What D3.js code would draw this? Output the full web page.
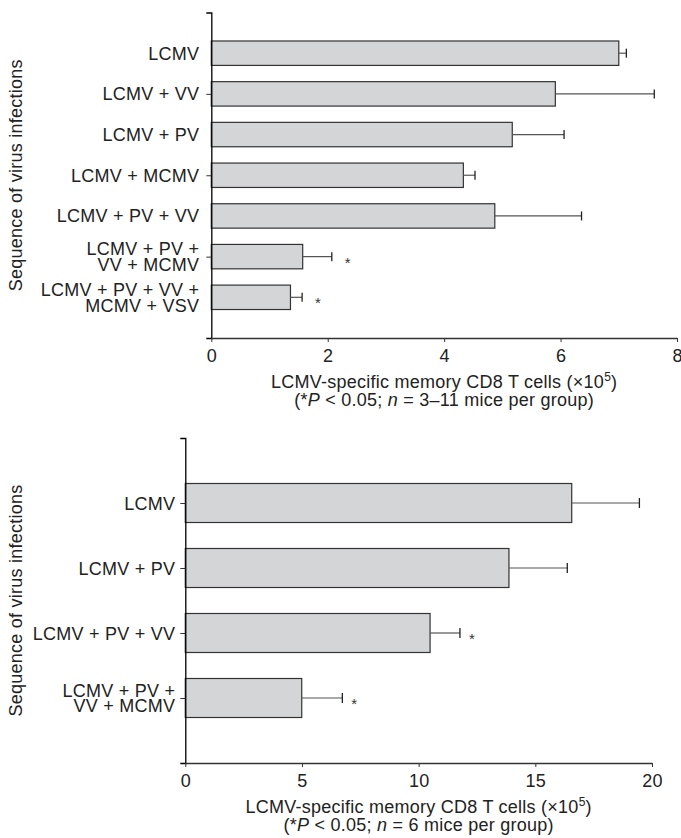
<!DOCTYPE html>
<html>
  <head>
    <meta charset="utf-8" />
    <script src="https://d3js.org/d3.v7.min.js"></script>
    <style>
      body { margin: 0; background: #fff; }
      svg { font-family: "Liberation Sans", Arial, Helvetica, sans-serif; }
      svg text { letter-spacing: 0.25px; }
    </style>
  </head>
  <body>
    <svg id="chart" width="681" height="838"></svg>

    <script>
      // ---- panel a: 3-11 mice per group ----
      const topCategories = [
        "LCMV",
        "LCMV + VV",
        "LCMV + PV",
        "LCMV + MCMV",
        "LCMV + PV + VV",
        "LCMV + PV +\nVV + MCMV",
        "LCMV + PV + VV +\nMCMV + VSV",
      ];
      const topMeans = [7.0, 5.91, 5.17, 4.33, 4.87, 1.57, 1.36];
      const topErrors = [0.13, 1.7, 0.89, 0.2, 1.49, 0.5, 0.2];
      const topStars = [false, false, false, false, false, true, true];
      const topTicks = [0, 2, 4, 6, 8];
      const topAxisTicks = ["LCMV + VV", "LCMV + MCMV", "LCMV + PV +\nVV + MCMV"];

      // ---- panel b: 6 mice per group ----
      const bottomCategories = [
        "LCMV",
        "LCMV + PV",
        "LCMV + PV + VV",
        "LCMV + PV +\nVV + MCMV",
      ];
      const bottomMeans = [16.56, 13.87, 10.49, 4.99];
      const bottomErrors = [2.9, 2.5, 1.28, 1.74];
      const bottomStars = [false, false, true, true];
      const bottomTicks = [0, 5, 10, 15, 20];

      const FS = 18; // font size used throughout

      const svg = d3.select("#chart");

      function drawPanel(opt) {
        var g = svg.append("g");

        var x = d3
          .scaleLinear()
          .domain([0, opt.ticks[opt.ticks.length - 1]])
          .range([opt.left, opt.right]);

        var y = d3
          .scalePoint()
          .domain(opt.categories)
          .range([opt.top, opt.bottom])
          .padding(1);

        var barH = y.step() * 0.6;
        var tipOf = (i) => x(opt.means[i] + opt.errors[i]);

        // bars
        g.selectAll("rect.bar")
          .data(opt.categories)
          .enter()
          .append("rect")
          .attr("class", "bar")
          .attr("x", x(0))
          .attr("y", (d) => y(d) - barH / 2)
          .attr("width", (d, i) => x(opt.means[i]) - x(0))
          .attr("height", barH)
          .attr("fill", "#d4d5d7")
          .attr("stroke", "#333")
          .attr("stroke-width", 1.2);

        // error bars
        g.selectAll("line.err")
          .data(opt.categories)
          .enter()
          .append("line")
          .attr("x1", (d, i) => x(opt.means[i]))
          .attr("x2", (d, i) => tipOf(i))
          .attr("y1", (d) => y(d))
          .attr("y2", (d) => y(d))
          .attr("stroke", "#555")
          .attr("stroke-width", 1.2);

        g.selectAll("line.cap")
          .data(opt.categories)
          .enter()
          .append("line")
          .attr("x1", (d, i) => tipOf(i))
          .attr("x2", (d, i) => tipOf(i))
          .attr("y1", (d) => y(d) - opt.cap)
          .attr("y2", (d) => y(d) + opt.cap)
          .attr("stroke", "#222")
          .attr("stroke-width", 1.3);

        // significance stars
        opt.categories.forEach(function (d, i) {
          if (!opt.stars[i]) return;
          g.append("text")
            .attr("x", tipOf(i) + opt.starGap)
            .attr("y", y(d) + 11)
            .attr("text-anchor", "middle")
            .attr("font-size", 15)
            .attr("fill", "#333")
            .text("*");
        });

        // y axis (ticks only at some categories)
        var yAxis = g
          .append("g")
          .attr("transform", "translate(" + x(0) + ",0)")
          .call(
            d3.axisLeft(y).tickValues(opt.axisTicks).tickFormat("").tickSize(5).tickSizeOuter(5)
          );
        yAxis.select(".domain").attr("stroke", "#000").attr("stroke-width", 1.3);
        yAxis.selectAll(".tick line").attr("stroke", "#333");

        // category labels
        g.selectAll("text.cat")
          .data(opt.categories)
          .enter()
          .append("text")
          .attr("class", "cat")
          .attr("text-anchor", "end")
          .attr("font-size", FS)
          .attr("fill", "#222")
          .each(function (d) {
            var lines = d.split("\n");
            var t = d3.select(this);
            lines.forEach(function (line, k) {
              t.append("tspan")
                .attr("x", x(0) - opt.labelGap)
                .attr("y", y(d) + 6.5 + (k - (lines.length - 1) / 2) * 15.5)
                .text(line);
            });
          });

        // x axis
        var xAxis = g
          .append("g")
          .attr("transform", "translate(0," + opt.bottom + ")")
          .call(d3.axisBottom(x).tickValues(opt.ticks).tickSize(4).tickSizeOuter(0));
        xAxis.select(".domain").attr("stroke", "#333").attr("stroke-width", 1.3);
        xAxis.selectAll(".tick line").attr("stroke", "#333");
        xAxis
          .selectAll(".tick text")
          .attr("font-size", FS)
          .attr("font-family", "Liberation Sans, Arial, sans-serif")
          .attr("fill", "#222")
          .attr("dy", null)
          .attr("y", 23.5);

        // x axis title
        var cx = (opt.left + opt.right) / 2;
        var t1 = g
          .append("text")
          .attr("x", cx)
          .attr("y", opt.bottom + 50)
          .attr("text-anchor", "middle")
          .attr("font-size", FS)
          .attr("fill", "#222");
        t1.append("tspan").text("LCMV-specific memory CD8 T cells (\u00d710");
        t1.append("tspan").attr("font-size", 12).attr("dy", -7).text("5");
        t1.append("tspan").attr("dy", 7).text(")");

        var t2 = g
          .append("text")
          .attr("x", cx)
          .attr("y", opt.bottom + 68)
          .attr("text-anchor", "middle")
          .attr("font-size", FS)
          .attr("fill", "#222");
        t2.append("tspan").text("(*");
        t2.append("tspan").attr("font-style", "italic").text("P");
        t2.append("tspan").text(" < 0.05; ");
        t2.append("tspan").attr("font-style", "italic").text("n");
        t2.append("tspan").text(" = " + opt.nText + " mice per group)");

        // y axis title
        g.append("text")
          .attr("transform", "translate(22," + (opt.top + opt.bottom) / 2 + ") rotate(-90)")
          .attr("text-anchor", "middle")
          .attr("font-size", FS)
          .attr("fill", "#222")
          .text("Sequence of virus infections");
      }

      drawPanel({
        categories: topCategories,
        means: topMeans,
        errors: topErrors,
        stars: topStars,
        ticks: topTicks,
        axisTicks: topAxisTicks,
        nText: "3\u201311",
        left: 211.3,
        right: 677,
        top: 12.5,
        bottom: 338,
        cap: 4.5,
        labelGap: 12,
        starGap: 16,
      });

      drawPanel({
        categories: bottomCategories,
        means: bottomMeans,
        errors: bottomErrors,
        stars: bottomStars,
        ticks: bottomTicks,
        axisTicks: bottomCategories,
        nText: "6",
        left: 185.3,
        right: 652,
        top: 438,
        bottom: 763,
        cap: 5,
        labelGap: 10,
        starGap: 12,
      });
    </script>
  </body>
</html>
